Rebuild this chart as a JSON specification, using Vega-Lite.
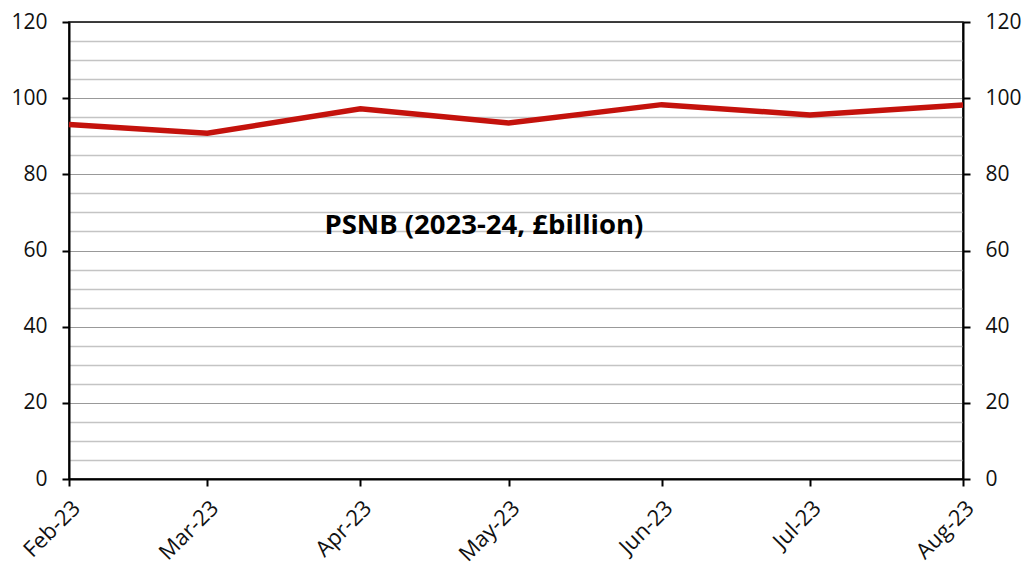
{
  "$schema": "https://vega.github.io/schema/vega-lite/v6.json",
  "autosize": {"type": "none"},
  "width": 894,
  "height": 457,
  "padding": {"left": 69, "top": 22, "right": 69, "bottom": 89},
  "background": "white",
  "config": {
    "view": {"stroke": "black", "strokeWidth": 1.5},
    "font": "Open Sans",
    "axis": {
      "labelFont": "Open Sans",
      "labelFontSize": 21,
      "labelColor": "#111111",
      "domainColor": "black",
      "domainWidth": 2,
      "tickColor": "black",
      "tickWidth": 2,
      "tickSize": 7,
      "title": null
    },
    "axisX": {
      "labelExpr": "utcFormat(datum.value, '%b-%y')",
      "tickCount": {"interval": "month", "step": 1},
      "labelAngle": -45,
      "labelAlign": "right",
      "labelBaseline": "top",
      "labelPadding": 11,
      "labelFontSize": 22,
      "grid": false,
      "labelOverlap": false,
      "labelFlush": false
    }
  },
  "layer": [
    {
      "data": {"values": [
        {"date": "2023-02-01", "value": 93.1},
        {"date": "2023-03-01", "value": 90.8},
        {"date": "2023-04-01", "value": 97.2},
        {"date": "2023-05-01", "value": 93.5},
        {"date": "2023-06-01", "value": 98.3},
        {"date": "2023-07-01", "value": 95.6},
        {"date": "2023-08-01", "value": 98.2}
      ]},
      "mark": {"type": "line", "color": "#c4120c", "strokeWidth": 5.5, "strokeJoin": "miter"},
      "encoding": {
        "x": {
          "field": "date",
          "type": "temporal",
          "scale": {"type": "utc", "nice": false}
        },
        "y": {
          "field": "value",
          "type": "quantitative",
          "scale": {"domain": [0, 120], "nice": false, "zero": true},
          "axis": {
            "orient": "left",
            "values": [0,5,10,15,20,25,30,35,40,45,50,55,60,65,70,75,80,85,90,95,100,105,110,115,120],
            "labelExpr": "datum.value % 20 === 0 ? datum.label : ''",
            "labelPadding": 15,
            "grid": true,
            "gridColor": {"condition": {"test": "datum.value % 20 === 0", "value": "#333333"}, "value": "#c4c4c4"},
            "gridDash": {"condition": {"test": "datum.value % 20 === 0", "value": [1, 1]}, "value": []},
            "gridWidth": {"condition": {"test": "datum.value % 20 === 0", "value": 1}, "value": 1.5},
            "tickOpacity": {"condition": {"test": "datum.value % 20 === 0", "value": 1}, "value": 0}
          }
        }
      }
    },
    {
      "data": {"values": [
        {"date": "2023-04-26", "value": 66.5, "label": "PSNB (2023-24, £billion)"}
      ]},
      "mark": {"type": "text", "fontSize": 27.5, "fontWeight": "bold", "font": "Open Sans", "color": "black", "align": "center", "baseline": "middle"},
      "encoding": {
        "x": {"field": "date", "type": "temporal"},
        "y": {
          "field": "value",
          "type": "quantitative",
          "axis": {
            "orient": "right",
            "values": [0, 20, 40, 60, 80, 100, 120],
            "labelPadding": 15,
            "grid": false
          }
        },
        "text": {"field": "label"}
      }
    }
  ],
  "resolve": {"axis": {"y": "independent"}}
}
